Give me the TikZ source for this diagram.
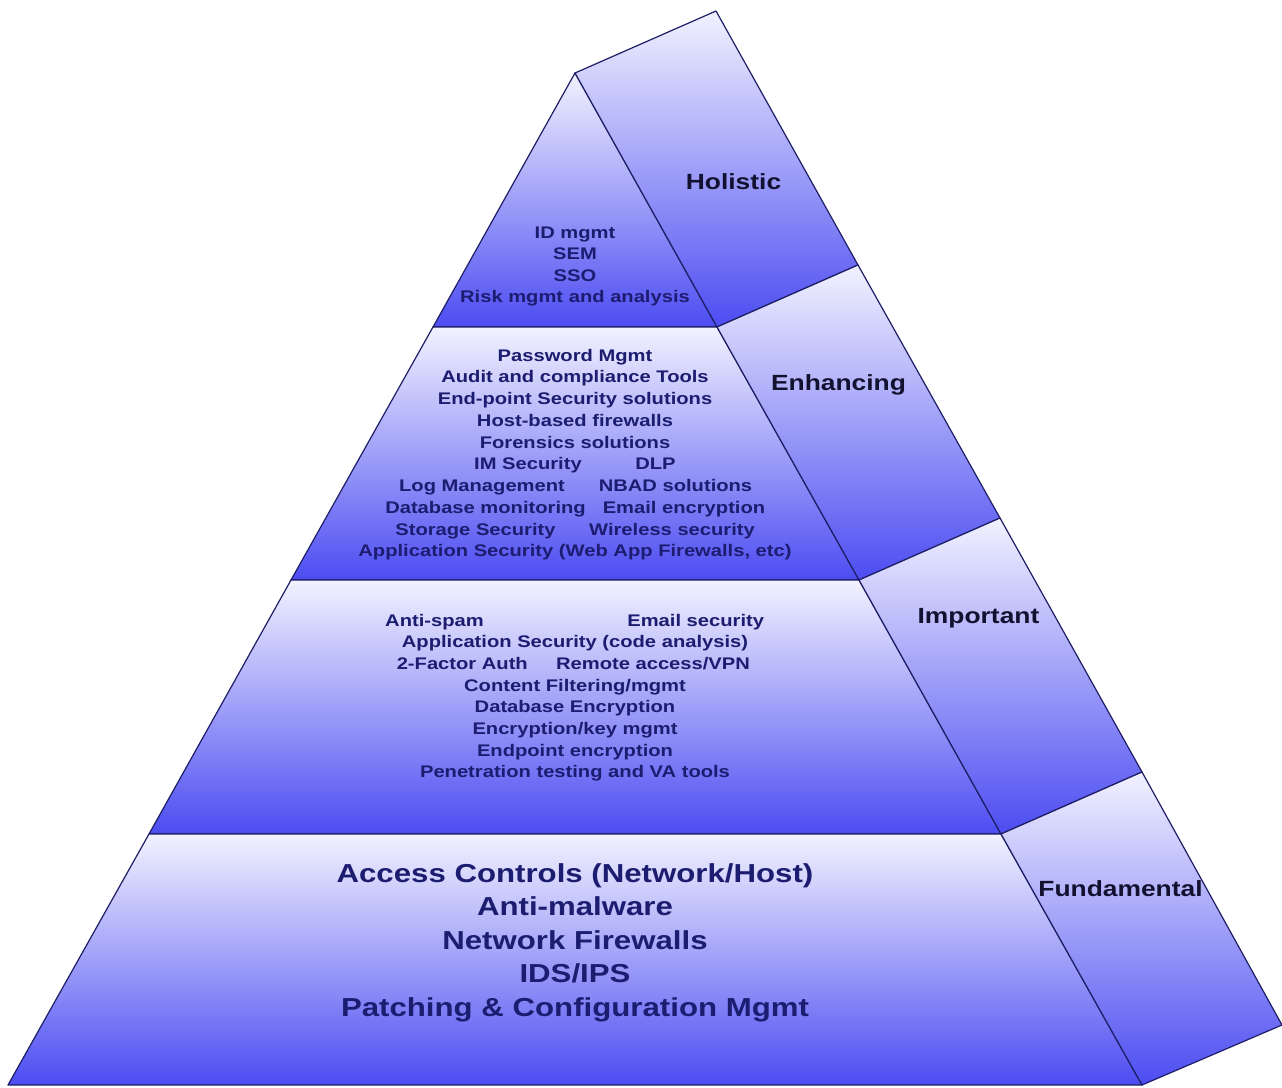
\documentclass[tikz,border=0pt]{standalone}
\usepackage{fontspec}
\setmainfont{Liberation Sans}[FakeStretch=1.2]
\usetikzlibrary{calc}
\definecolor{edge}{HTML}{1E1E66}
\definecolor{lite}{HTML}{F2F2FF}
\definecolor{deep}{HTML}{4C4CF2}
\definecolor{txt}{HTML}{1C1C70}
\definecolor{lbl}{HTML}{121230}
\begin{document}
\begin{tikzpicture}[x=1pt,y=-1pt,
  band/.style={draw=edge, line width=1.2pt, top color=lite, bottom color=deep, line join=round},
  small/.style={font=\fontsize{16.8}{20}\selectfont\bfseries, text=txt, anchor=base, inner sep=0pt},
  big/.style={font=\fontsize{26}{30}\selectfont\bfseries, text=txt, anchor=base, inner sep=0pt},
  side/.style={font=\fontsize{22}{26}\selectfont\bfseries, text=lbl, anchor=base, inner sep=0pt}]
\fill[white] (0,0) rectangle (1282,1087);
\useasboundingbox (0,0) rectangle (1282,1087);
% corners
\coordinate (A) at (575,73);
\coordinate (L1) at (433,327);  \coordinate (R1) at (717,327);
\coordinate (L2) at (291,580);  \coordinate (R2) at (859,580);
\coordinate (L3) at (149,834);  \coordinate (R3) at (1001,834);
\coordinate (L4) at (8,1085);   \coordinate (R4) at (1142,1085);
\coordinate (A') at ($(A)+(141,-62)$);
\coordinate (R1') at ($(R1)+(141,-62)$);
\coordinate (R2') at ($(R2)+(141,-62)$);
\coordinate (R3') at ($(R3)+(141,-62)$);
\coordinate (R4') at ($(R4)+(140,-60)$);
% front bands
\draw[band] (A) -- (R1) -- (L1) -- cycle;
\draw[band] (L1) -- (R1) -- (R2) -- (L2) -- cycle;
\draw[band] (L2) -- (R2) -- (R3) -- (L3) -- cycle;
\draw[band] (L3) -- (R3) -- (R4) -- (L4) -- cycle;
% side bands
\draw[band] (A) -- (A') -- (R1') -- (R1) -- cycle;
\draw[band] (R1) -- (R1') -- (R2') -- (R2) -- cycle;
\draw[band] (R2) -- (R2') -- (R3') -- (R3) -- cycle;
\draw[band] (R3) -- (R3') -- (R4') -- (R4) -- cycle;
% side labels
\node[side] (hol) at (733.5,189) {Holistic};
\node[side] (enh) at (838.5,390) {Enhancing};
\node[side] (imp) at (978.5,623) {Important};
\node[side] (fun) at (1120.5,896) {Fundamental};
% holistic
\node[small] (h1) at (575,238.5) {ID mgmt};
\node[small] (h2) at (575,259.9) {SEM};
\node[small] (h3) at (575,281.3) {SSO};
\node[small] (h4) at (575,302.7) {Risk mgmt and analysis};
% enhancing
\node[small] (e1) at (575,361) {Password Mgmt};
\node[small] (e2) at (575,382.75) {Audit and compliance Tools};
\node[small] (e3) at (575,404.5) {End-point Security solutions};
\node[small] (e4) at (575,426.25) {Host-based firewalls};
\node[small] (e5) at (575,448) {Forensics solutions};
\node[small] (e6a) at (528,469.75) {IM Security};
\node[small] (e6b) at (655.5,469.75) {DLP};
\node[small] (e7a) at (482,491.5) {Log Management};
\node[small] (e7b) at (675.5,491.5) {NBAD solutions};
\node[small] (e8a) at (485.5,513.25) {Database monitoring};
\node[small] (e8b) at (684,513.25) {Email encryption};
\node[small] (e9a) at (475.5,535) {Storage Security};
\node[small] (e9b) at (672,535) {Wireless security};
\node[small] (e10) at (575,556.75) {Application Security (Web App Firewalls, etc)};
% important
\node[small] (i1a) at (434.5,626) {Anti-spam};
\node[small] (i1b) at (695.7,626) {Email security};
\node[small] (i2) at (575,647.7) {Application Security (code analysis)};
\node[small] (i3a) at (462.3,669.4) {2-Factor Auth};
\node[small] (i3b) at (653,669.4) {Remote access/VPN};
\node[small] (i4) at (575,691.1) {Content Filtering/mgmt};
\node[small] (i5) at (575,712.8) {Database Encryption};
\node[small] (i6) at (575,734.5) {Encryption/key mgmt};
\node[small] (i7) at (575,756.2) {Endpoint encryption};
\node[small] (i8) at (575,777.9) {Penetration testing and VA tools};
% fundamental
\node[big] (f1) at (575,882) {Access Controls (Network/Host)};
\node[big] (f2) at (575,915.5) {Anti-malware};
\node[big] (f3) at (575,949) {Network Firewalls};
\node[big] (f4) at (575,982.5) {IDS/IPS};
\node[big] (f5) at (575,1016) {Patching \& Configuration Mgmt};
\end{tikzpicture}
\end{document}
